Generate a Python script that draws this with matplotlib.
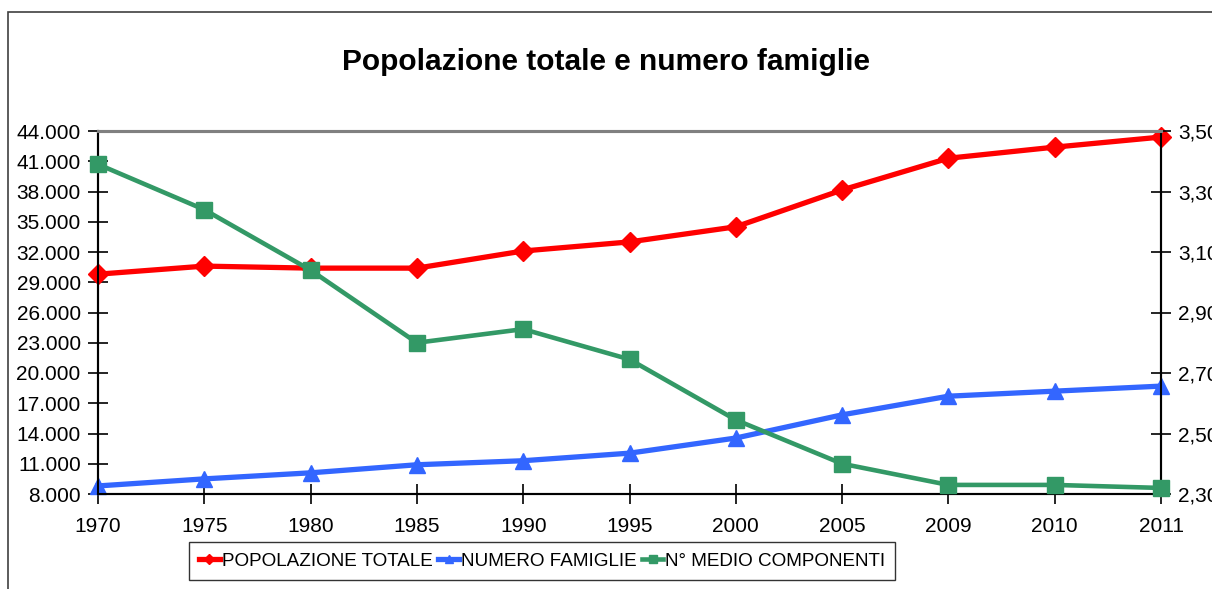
import numpy as np
import matplotlib
matplotlib.use('Agg')
import matplotlib.pyplot as plt
from matplotlib.patches import Rectangle
from matplotlib.ticker import FuncFormatter

plt.rcParams['font.family'] = ['Liberation Sans', 'DejaVu Sans']

# Data
anni = ['1970', '1975', '1980', '1985', '1990', '1995', '2000', '2005', '2009', '2010', '2011']
popolazione = [29800, 30600, 30400, 30400, 32100, 33000, 34500, 38150, 41300, 42400, 43400]
famiglie = [8800, 9500, 10100, 10900, 11300, 12050, 13550, 15850, 17700, 18200, 18700]
componenti = [3.39, 3.24, 3.04, 2.80, 2.845, 2.745, 2.545, 2.40, 2.33, 2.33, 2.32]

red = '#FF0000'
blue = '#3366FF'
green = '#339966'

fig = plt.figure(figsize=(12.12, 5.89), dpi=100)
W, H = 1212, 589

# outer chart frame (cut off at right and bottom)
fig.patches.append(Rectangle((8 / W, -0.1), 1.2, 1 - 12 / H + 0.1,
                             transform=fig.transFigure, fill=False,
                             edgecolor='#404040', linewidth=1.2))

ax = fig.add_axes([98 / W, 1 - 494 / H, (1161 - 98) / W, (494 - 131) / H])
ax2 = ax.twinx()

x = np.arange(len(anni))
l1, = ax.plot(x, popolazione, color=red, lw=3.8, marker='D', ms=10,
              label='POPOLAZIONE TOTALE', clip_on=False, zorder=3)
l2, = ax.plot(x, famiglie, color=blue, lw=3.8, marker='^', ms=11,
              label='NUMERO FAMIGLIE', clip_on=False, zorder=3)
l3, = ax2.plot(x, componenti, color=green, lw=3.3, marker='s', ms=11,
               label='N° MEDIO COMPONENTI', clip_on=False, zorder=3)

ax.set_xlim(0, len(anni) - 1)
ax.set_xticks(x)
ax.set_xticklabels(anni)
ax.set_ylim(8000, 44000)
ax.set_yticks(np.arange(8000, 44001, 3000))
ax.yaxis.set_major_formatter(FuncFormatter(lambda v, p: f'{int(v):,}'.replace(',', '.')))
ax2.set_ylim(2.30, 3.50)
ax2.set_yticks(np.arange(2.30, 3.501, 0.2))
ax2.yaxis.set_major_formatter(FuncFormatter(lambda v, p: f'{v:.2f}'.replace('.', ',')))

for a in (ax, ax2):
    for s in ('left', 'right', 'bottom'):
        a.spines[s].set_color('black')
        a.spines[s].set_linewidth(1.5)
    a.spines['top'].set_color('#808080')
    a.spines['top'].set_linewidth(2.2)
    a.tick_params(direction='inout', length=15, width=1.2, labelsize=15, colors='black')
ax.tick_params(axis='x', pad=9)
ax.tick_params(axis='y', pad=5)
ax2.tick_params(axis='y', pad=5)

fig.text(0.5, 1 - 62 / H, 'Popolazione totale e numero famiglie',
         ha='center', va='center', fontsize=21.5, fontweight='bold')

leg = fig.legend(handles=[l1, l2, l3], loc='center', bbox_to_anchor=(542 / W, 1 - 561 / H),
                 ncol=3, fontsize=13.6, frameon=True, fancybox=False, handlelength=1.1,
                 handletextpad=0.1, columnspacing=0.3, borderpad=0.55, markerscale=0.55)
leg.get_frame().set_edgecolor('black')
leg.get_frame().set_linewidth(1.0)

fig.savefig('out.png', dpi=100)
